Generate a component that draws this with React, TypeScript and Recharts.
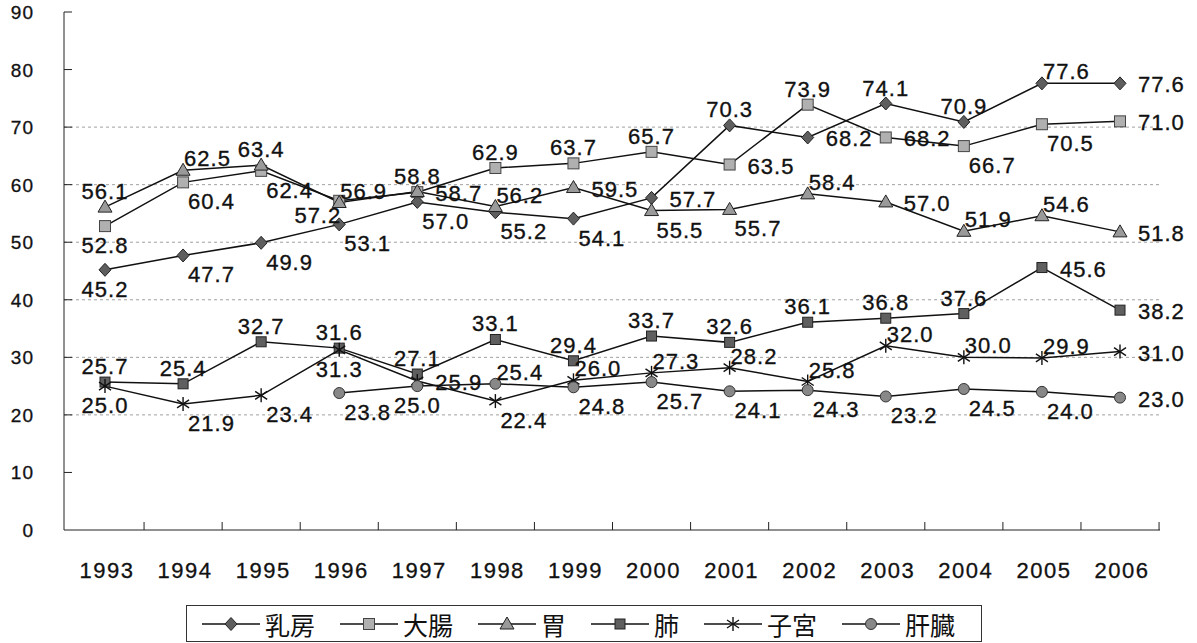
import React from 'react';
import { LineChart, Line, XAxis, YAxis, ReferenceLine } from 'recharts';

// ---------- data ----------
const years = ['1993', '1994', '1995', '1996', '1997', '1998', '1999', '2000', '2001', '2002', '2003', '2004', '2005', '2006'];
const nyubo = [45.2, 47.7, 49.9, 53.1, 57.0, 55.2, 54.1, 57.7, 70.3, 68.2, 74.1, 70.9, 77.6, 77.6];
const daicho = [52.8, 60.4, 62.4, 57.2, 58.7, 62.9, 63.7, 65.7, 63.5, 73.9, 68.2, 66.7, 70.5, 71.0];
const stomach = [56.1, 62.5, 63.4, 56.9, 58.8, 56.2, 59.5, 55.5, 55.7, 58.4, 57.0, 51.9, 54.6, 51.8];
const lung = [25.7, 25.4, 32.7, 31.6, 27.1, 33.1, 29.4, 33.7, 32.6, 36.1, 36.8, 37.6, 45.6, 38.2];
const uterus = [25.0, 21.9, 23.4, 31.3, 25.9, 22.4, 26.0, 27.3, 28.2, 25.8, 32.0, 30.0, 29.9, 31.0];
const liver = [null, null, null, 23.8, 25.0, 25.4, 24.8, 25.7, 24.1, 24.3, 23.2, 24.5, 24.0, 23.0];
const yTicks = [0, 10, 20, 30, 40, 50, 60, 70, 80, 90];
const gridValues = [20, 30, 40, 50, 60, 70];
const seriesNames = ['乳房', '大腸', '胃', '肺', '子宮', '肝臓'];

// ---------- label placement (style) ----------
const posNyubo = ['b', 'br', 'br', 'br', 'br', 'br', 'br', 'r', 'a', 'r', 'a', 'a', 'ar', 'r'];
const posDaicho = ['b', 'br', 'br', 'bl', 'r', 'a', 'a', 'a', 'r', 'a', 'r', 'br', 'br', 'r'];
const posStomach = ['a', 'ar', 'a', 'ar', 'a', 'ar', 'r', 'br', 'br', 'ar', 'r', 'ar', 'ar', 'r'];
const posLung = ['a', 'a', 'a', 'a', 'a', 'a', 'a', 'a', 'a', 'a', 'a', 'a', 'r', 'r'];
const posUterus = ['b', 'br', 'br', 'b', 'r', 'br', 'ar', 'ar', 'ar', 'ar', 'ar', 'ar', 'ar', 'r'];
const posLiver = ['', '', '', 'br', 'b', 'ar', 'br', 'br', 'br', 'br', 'br', 'br', 'br', 'r'];

const OFF: Record<string, { dx: number; dy: number; anchor: 'start' | 'middle' | 'end' }> = {
  a: { dx: 0, dy: -8, anchor: 'middle' },
  b: { dx: 0, dy: 27, anchor: 'middle' },
  r: { dx: 18, dy: 9, anchor: 'start' },
  ar: { dx: 1, dy: -4, anchor: 'start' },
  br: { dx: 5, dy: 27, anchor: 'start' },
  bl: { dx: 2, dy: 22, anchor: 'end' },
};

const table = years.map((y, i) => ({
  year: y,
  乳房: nyubo[i],
  大腸: daicho[i],
  胃: stomach[i],
  肺: lung[i],
  子宮: uterus[i],
  肝臓: liver[i],
}));

const W = 1197;
const H = 643;
const LABEL_FONT = '"Liberation Sans", Arial, sans-serif';
const STEP = 78.1;

function Marker({ shape, cx, cy }: { shape: string; cx: number; cy: number }) {
  switch (shape) {
    case 'diamond':
      return <polygon points={`${cx},${cy - 6.5} ${cx + 6},${cy} ${cx},${cy + 6.5} ${cx - 6},${cy}`} fill="#5e5e5e" stroke="#222" strokeWidth={1} />;
    case 'squareL':
      return <rect x={cx - 5.5} y={cy - 5.5} width={11} height={11} fill="#b0b0b0" stroke="#444" strokeWidth={1} />;
    case 'triangle':
      return <polygon points={`${cx},${cy - 7} ${cx + 7},${cy + 5} ${cx - 7},${cy + 5}`} fill="#9a9a9a" stroke="#222" strokeWidth={1} />;
    case 'squareD':
      return <rect x={cx - 5} y={cy - 5} width={10} height={10} fill="#5f5f5f" stroke="#222" strokeWidth={1} />;
    case 'star':
      return (
        <g stroke="#111" strokeWidth={1.4}>
          <line x1={cx} y1={cy - 7} x2={cx} y2={cy + 7} />
          <line x1={cx - 6} y1={cy - 4} x2={cx + 6} y2={cy + 4} />
          <line x1={cx - 6} y1={cy + 4} x2={cx + 6} y2={cy - 4} />
        </g>
      );
    case 'circle':
      return <circle cx={cx} cy={cy} r={5.5} fill="#888" stroke="#333" strokeWidth={1} />;
    default:
      return null;
  }
}

const shapes: Record<string, string> = {
  乳房: 'diamond',
  大腸: 'squareL',
  胃: 'triangle',
  肺: 'squareD',
  子宮: 'star',
  肝臓: 'circle',
};

const positions: Record<string, string[]> = {
  乳房: posNyubo,
  大腸: posDaicho,
  胃: posStomach,
  肺: posLung,
  子宮: posUterus,
  肝臓: posLiver,
};

function makeDot(name: string) {
  return (p: any) => {
    const key = `dot-${name}-${p.index}`;
    if (p.value == null || p.cx == null || p.cy == null || isNaN(p.cy)) return <g key={key} />;
    return (
      <g key={key}>
        <Marker shape={shapes[name]} cx={p.cx} cy={p.cy} />
      </g>
    );
  };
}

function makeLabel(name: string) {
  return (p: any) => {
    const key = `lbl-${name}-${p.index}`;
    if (p.value == null || p.x == null || p.y == null) return <g key={key} />;
    const code = positions[name][p.index];
    const o = OFF[code];
    if (!o) return <g key={key} />;
    return (
      <text
        key={key}
        x={p.x + o.dx}
        y={p.y + o.dy}
        textAnchor={o.anchor}
        fontFamily={LABEL_FONT}
        fontSize={22}
        letterSpacing={1}
        fill="#111"
        stroke="#111"
        strokeWidth={0.35}
      >
        {Number(p.value).toFixed(1)}
      </text>
    );
  };
}

function YTick(p: any) {
  const v = p.payload?.value;
  return (
    <g>
      <text x={34} y={p.y + 7} textAnchor="end" fontFamily={LABEL_FONT} fontSize={19} letterSpacing={1} fill="#111" stroke="#111" strokeWidth={0.3}>
        {v}
      </text>
      {v !== 0 && <line x1={64} x2={72} y1={p.y} y2={p.y} stroke="#222" strokeWidth={1} />}
    </g>
  );
}

function XTick(p: any) {
  return (
    <g>
      <text x={p.x + 2} y={578} textAnchor="middle" fontFamily={LABEL_FONT} fontSize={22} letterSpacing={1.5} fill="#111" stroke="#111" strokeWidth={0.3}>
        {p.payload?.value}
      </text>
      <line x1={p.x + STEP / 2} x2={p.x + STEP / 2} y1={530} y2={522} stroke="#222" strokeWidth={1} />
    </g>
  );
}

function LegendBox() {
  return (
    <div
      style={{
        position: 'absolute',
        left: 186,
        top: 605,
        width: 796,
        height: 37,
        border: '1px solid #333',
        boxSizing: 'border-box',
        background: '#fff',
        display: 'flex',
        alignItems: 'center',
        paddingLeft: 15,
        fontFamily: '"Noto Sans CJK JP", sans-serif',
        fontSize: 25,
        color: '#111',
        whiteSpace: 'nowrap',
        overflow: 'visible',
      }}
    >
      {seriesNames.map((n) => (
        <div key={n} style={{ display: 'flex', alignItems: 'center', marginRight: 25, flexShrink: 0 }}>
          <svg width={58} height={20} style={{ display: 'block', flexShrink: 0 }}>
            <line x1={0} x2={58} y1={10} y2={10} stroke="#111" strokeWidth={1.5} />
            <Marker shape={shapes[n]} cx={29} cy={10} />
          </svg>
          <span style={{ marginLeft: 5, lineHeight: '26px', whiteSpace: 'nowrap' }}>{n}</span>
        </div>
      ))}
    </div>
  );
}

export default function App() {
  return (
    <div style={{ position: 'absolute', left: 0, top: 0, width: W, height: H, background: '#fff' }}>
      <LineChart width={W} height={H} data={table} margin={{ top: 12, right: 37, bottom: 53, left: 0 }}>
        <XAxis
          dataKey="year"
          height={60}
          padding={{ left: 41, right: 40 }}
          axisLine={{ stroke: '#222', strokeWidth: 1 }}
          tickLine={false}
          tick={<XTick />}
          interval={0}
        />
        <YAxis
          width={64}
          domain={[0, 90]}
          ticks={yTicks}
          axisLine={{ stroke: '#222', strokeWidth: 1 }}
          tickLine={false}
          tick={<YTick />}
          interval={0}
        />
        {gridValues.map((g) => (
          <ReferenceLine key={g} y={g} stroke="#a0a0a0" strokeDasharray="3 3" strokeWidth={1} />
        ))}
        {seriesNames.map((n) => (
          <Line
            key={n}
            dataKey={n}
            stroke="#111"
            strokeWidth={1.5}
            isAnimationActive={false}
            dot={makeDot(n)}
            activeDot={false}
            label={makeLabel(n)}
          />
        ))}
      </LineChart>
      <LegendBox />
    </div>
  );
}
